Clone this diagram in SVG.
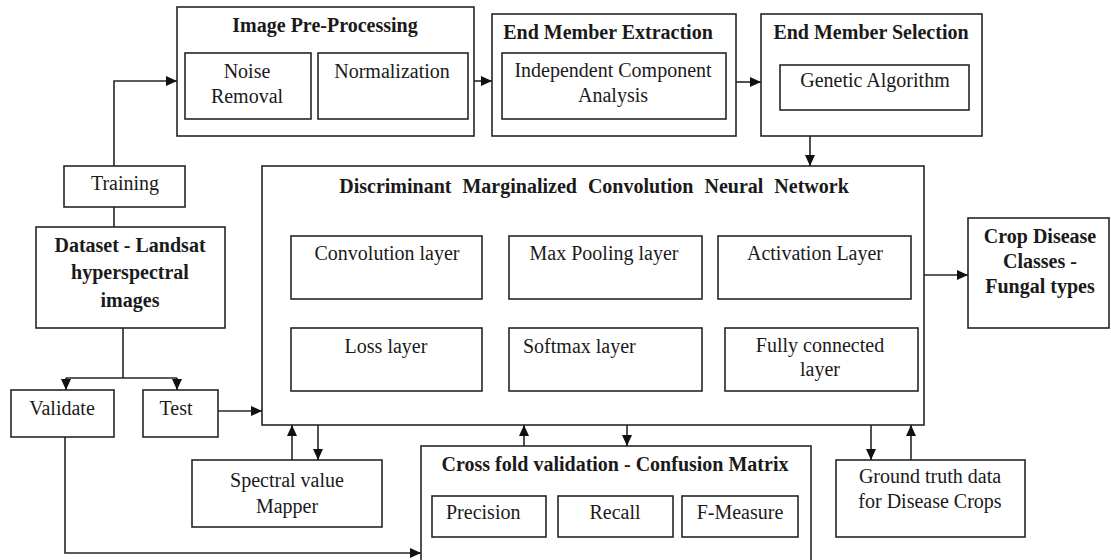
<svg xmlns="http://www.w3.org/2000/svg" width="1111" height="560" viewBox="0 0 1111 560">
<style>
rect{fill:#fff;stroke:#262626;stroke-width:1.6}
text{font-family:"Liberation Serif","Times New Roman",serif;font-size:20px;fill:#1a1a1a;text-anchor:middle}
.b{font-weight:bold}
.l{text-anchor:start}
.ws{word-spacing:6px}
#connectors path{fill:none;stroke:#262626;stroke-width:1.6}
</style>
<defs>
<marker id="ah" markerUnits="userSpaceOnUse" markerWidth="12" markerHeight="10" refX="11" refY="5" orient="auto">
<path d="M0,0 L11,5 L0,10 Z" fill="#111"/>
</marker>
</defs>
<rect x="0" y="0" width="1111" height="560" style="fill:#fff;stroke:none"/>
<g id="preprocessing">
<rect x="177" y="7" width="297" height="129"/>
<text class="b" x="325" y="32">Image Pre-Processing</text>
</g>
<g id="noise-removal">
<rect x="185" y="53" width="126" height="66"/>
<text x="247" y="78">Noise</text>
<text x="247" y="103">Removal</text>
</g>
<g id="normalization">
<rect x="318" y="53" width="150" height="66"/>
<text x="392" y="78">Normalization</text>
</g>
<g id="extraction">
<rect x="492" y="14" width="244" height="122"/>
<text class="b" x="608" y="39">End Member Extraction</text>
</g>
<g id="ica">
<rect x="502" y="53" width="224" height="66"/>
<text x="613" y="77">Independent Component</text>
<text x="613" y="102">Analysis</text>
</g>
<g id="selection">
<rect x="761" y="14" width="221" height="122"/>
<text class="b" x="871" y="39">End Member Selection</text>
</g>
<g id="genetic">
<rect x="780" y="65" width="189" height="45"/>
<text x="875" y="87">Genetic Algorithm</text>
</g>
<g id="training">
<rect x="64" y="166" width="121" height="41"/>
<text x="125" y="190">Training</text>
</g>
<g id="dataset">
<rect x="36" y="227" width="189" height="101"/>
<text class="b" x="130" y="252">Dataset - Landsat</text>
<text class="b" x="130" y="279">hyperspectral</text>
<text class="b" x="130" y="307">images</text>
</g>
<g id="validate">
<rect x="11" y="390" width="103" height="47"/>
<text x="62" y="415">Validate</text>
</g>
<g id="test">
<rect x="143" y="390" width="75" height="47"/>
<text x="176" y="415">Test</text>
</g>
<g id="dmcnn">
<rect x="262" y="166" width="662" height="259"/>
<text class="b ws" x="594" y="193">Discriminant Marginalized Convolution Neural Network</text>
</g>
<g id="convolution">
<rect x="291" y="236" width="191" height="63"/>
<text x="387" y="260">Convolution layer</text>
</g>
<g id="maxpooling">
<rect x="509" y="236" width="193" height="63"/>
<text x="604" y="260">Max Pooling layer</text>
</g>
<g id="activation">
<rect x="718" y="236" width="193" height="63"/>
<text x="815" y="260">Activation Layer</text>
</g>
<g id="loss">
<rect x="291" y="328" width="191" height="63"/>
<text x="386" y="353">Loss layer</text>
</g>
<g id="softmax">
<rect x="509" y="328" width="193" height="63"/>
<text class="l" x="523" y="353">Softmax layer</text>
</g>
<g id="fullyconnected">
<rect x="725" y="328" width="193" height="63"/>
<text x="820" y="352">Fully connected</text>
<text x="820" y="376">layer</text>
</g>
<g id="crop">
<rect x="968" y="218" width="141" height="110"/>
<text class="b" x="1040" y="243">Crop Disease</text>
<text class="b" x="1040" y="268">Classes -</text>
<text class="b" x="1040" y="293">Fungal types</text>
</g>
<g id="spectral">
<rect x="192" y="460" width="190" height="67"/>
<text x="287" y="487">Spectral value</text>
<text x="287" y="513">Mapper</text>
</g>
<g id="crossfold">
<rect x="421" y="446" width="390" height="125"/>
<text class="b" x="615" y="471">Cross fold validation - Confusion Matrix</text>
</g>
<g id="precision">
<rect x="432" y="496" width="114" height="41"/>
<text class="l" x="446" y="519">Precision</text>
</g>
<g id="recall">
<rect x="558" y="496" width="115" height="41"/>
<text x="615" y="519">Recall</text>
</g>
<g id="fmeasure">
<rect x="682" y="496" width="116" height="41"/>
<text x="740" y="519">F-Measure</text>
</g>
<g id="groundtruth">
<rect x="836" y="460" width="189" height="77"/>
<text x="930" y="483">Ground truth data</text>
<text x="930" y="508">for Disease Crops</text>
</g>
<g id="connectors">
<path d="M114,166 V81 H177" marker-end="url(#ah)"/>
<path d="M474,81 H492" marker-end="url(#ah)"/>
<path d="M736,82 H761" marker-end="url(#ah)"/>
<path d="M810,136 V166" marker-end="url(#ah)"/>
<path d="M114,207 V227"/>
<path d="M123,328 V378 M66,378 H177"/>
<path d="M66,378 V390" marker-end="url(#ah)"/>
<path d="M177,378 V390" marker-end="url(#ah)"/>
<path d="M218,411 H262" marker-end="url(#ah)"/>
<path d="M65,437 V553 H421" marker-end="url(#ah)"/>
<path d="M292,460 V425" marker-end="url(#ah)"/>
<path d="M318,425 V460" marker-end="url(#ah)"/>
<path d="M524,446 V425" marker-end="url(#ah)"/>
<path d="M627,425 V446" marker-end="url(#ah)"/>
<path d="M871,425 V460" marker-end="url(#ah)"/>
<path d="M911,460 V425" marker-end="url(#ah)"/>
<path d="M924,275 H968" marker-end="url(#ah)"/>
</g>
</svg>
